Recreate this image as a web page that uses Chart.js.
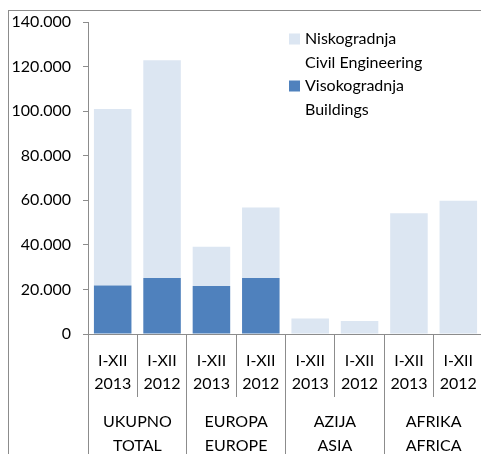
<!DOCTYPE html>
<html>
<head>
<meta charset="utf-8">
<script src="https://cdn.jsdelivr.net/npm/chart.js@4.4.0/dist/chart.umd.min.js"></script>
<style>
  html, body { margin: 0; padding: 0; background: #fff; overflow: hidden; width: 481px; height: 454px; }
  #wrap { position: absolute; left: 0; top: 0; width: 486px; height: 454px; }
  #frame { position: absolute; left: 8px; top: 10px; width: 500px; height: 460px; border-top: 1px solid #8c8c8c; border-left: 1px solid #8c8c8c; pointer-events: none; }
</style>
</head>
<body>
<div id="wrap"><canvas id="c" width="486" height="454"></canvas></div>
<div id="frame"></div>
<script>
const categories = [["I-XII","2013"],["I-XII","2012"],["I-XII","2013"],["I-XII","2012"],["I-XII","2013"],["I-XII","2012"],["I-XII","2013"],["I-XII","2012"]];
const groups = [["UKUPNO","TOTAL"],["EUROPA","EUROPE"],["AZIJA","ASIA"],["AFRIKA","AFRICA"]];
const buildings = [21800, 25100, 21500, 25100, 0, 0, 0, 0];
const civilEngineering = [79200, 97700, 17700, 31700, 7000, 5800, 54200, 59800];
const yTicks = [0, 20000, 40000, 60000, 80000, 100000, 120000, 140000];
const seriesLabels = [["Niskogradnja","Civil Engineering"],["Visokogradnja","Buildings"]];

const FONT = "Lato, 'Open Sans', sans-serif";
const GREY = "#8c8c8c";

function fmt(v) {
  return String(v).replace(/\B(?=(\d{3})+(?!\d))/g, ".");
}

const legendPlugin = {
  id: "customLegend",
  afterDraw(chart, args, opts) {
    const ctx = chart.ctx;
    ctx.save();
    ctx.font = "16px " + FONT;
    ctx.textBaseline = "middle";
    ctx.textAlign = "left";
    const order = [1, 0];
    order.forEach((dsIndex, i) => {
      const ds = chart.data.datasets[dsIndex];
      const y0 = opts.top + i * opts.itemGap;
      ctx.fillStyle = ds.backgroundColor;
      ctx.fillRect(opts.left, y0 - 5.5, 11, 11);
      ctx.fillStyle = "#000";
      ds.label.forEach((line, j) => {
        ctx.fillText(line, opts.left + 16, y0 + j * opts.lineGap);
      });
    });
    ctx.restore();
  }
};

new Chart(document.getElementById("c"), {
  type: "bar",
  data: {
    labels: categories,
    datasets: [
      { label: seriesLabels[1], data: buildings, backgroundColor: "#4f81bd", stack: "s" },
      { label: seriesLabels[0], data: civilEngineering, backgroundColor: "#dce6f2", stack: "s" }
    ]
  },
  options: {
    responsive: false,
    animation: false,
    devicePixelRatio: 1,
    layout: { padding: { top: 22, right: 3, bottom: 0, left: 0 } },
    categoryPercentage: 1,
    barPercentage: 0.76,
    plugins: {
      legend: { display: false },
      tooltip: { enabled: false },
      customLegend: { left: 289, top: 39, itemGap: 47, lineGap: 24 }
    },
    scales: {
      x: {
        stacked: true,
        weight: 0,
        grid: { offset: true, drawOnChartArea: false, drawTicks: true, tickLength: 63, color: GREY, lineWidth: 1 },
        border: { display: true, color: GREY, width: 1 },
        ticks: { color: "#000", font: { family: FONT, size: 16, lineHeight: 1.45 }, padding: -48, maxRotation: 0, autoSkip: false },
        afterFit: (s) => { s.height = 63; }
      },
      x2: {
        type: "category",
        position: "bottom",
        weight: 1,
        labels: groups,
        grid: { offset: true, drawOnChartArea: false, drawTicks: true, tickLength: 60, color: GREY, lineWidth: 1 },
        border: { display: false },
        ticks: { color: "#000", font: { family: FONT, size: 16, lineHeight: 1.5 }, padding: -47, maxRotation: 0, autoSkip: false },
        afterFit: (s) => { s.height = 57; }
      },
      y: {
        stacked: true,
        min: 0,
        max: 140000,
        afterBuildTicks: (s) => { s.ticks = yTicks.map(v => ({ value: v })); },
        grid: { drawOnChartArea: false, drawTicks: true, tickLength: 5, color: GREY },
        border: { display: true, color: GREY, width: 1 },
        ticks: { color: "#000", font: { family: FONT, size: 16 }, padding: 12, callback: (v) => fmt(v) },
        afterFit: (s) => { s.width = 88; }
      }
    }
  },
  plugins: [legendPlugin]
});
</script>
</body>
</html>
